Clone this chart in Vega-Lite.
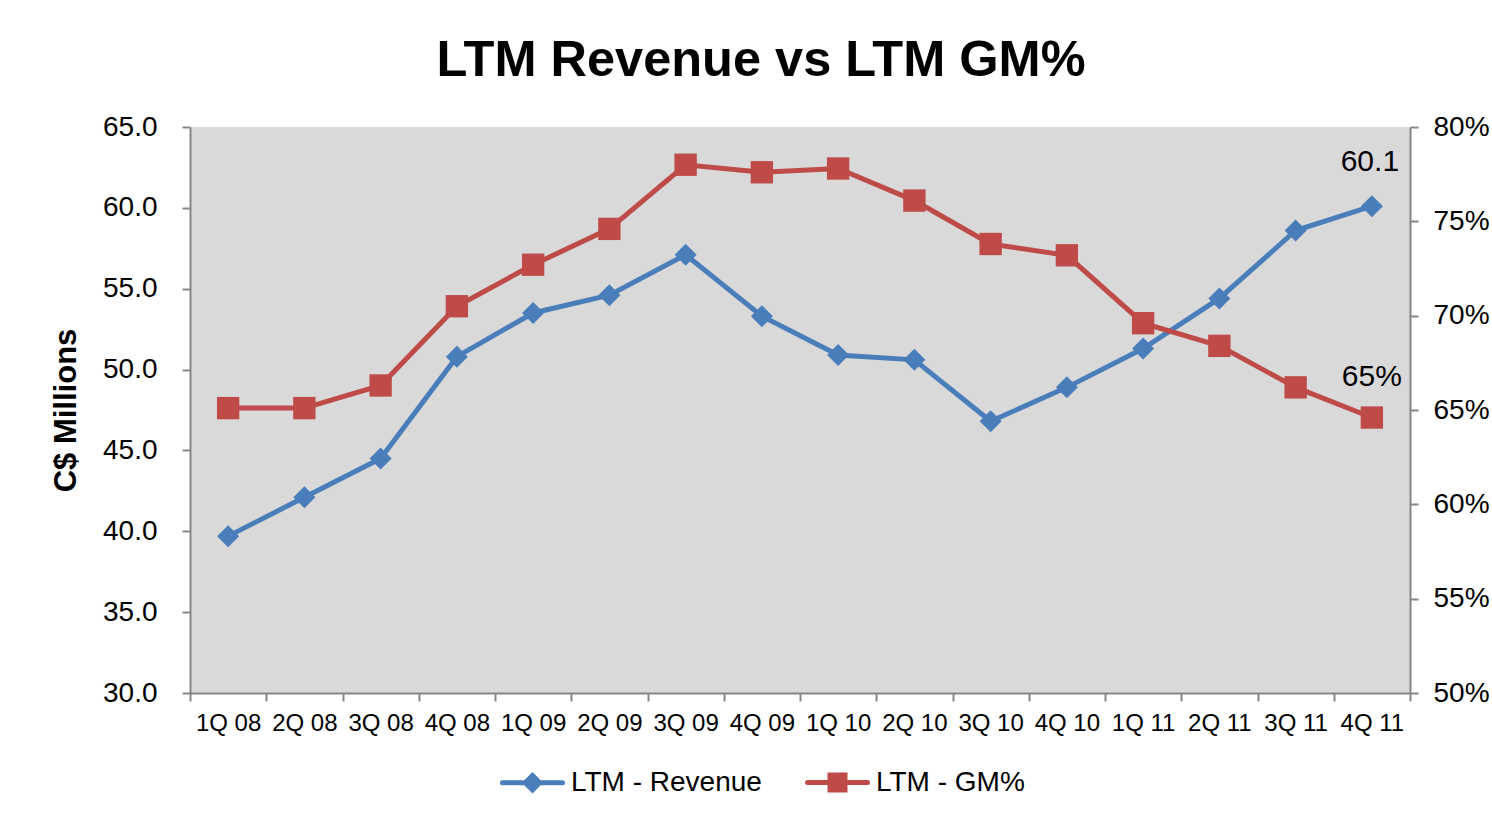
{
  "$schema": "https://vega.github.io/schema/vega-lite/v6.json",
  "width": 1220,
  "height": 566,
  "autosize": {"type": "none"},
  "padding": {"left": 190, "top": 127, "right": 82, "bottom": 129},
  "background": "white",
  "title": {
    "text": "LTM Revenue vs LTM GM%",
    "fontSize": 50.5,
    "fontWeight": "bold",
    "font": "Liberation Sans",
    "color": "black",
    "anchor": "middle",
    "baseline": "alphabetic",
    "offset": -13,
    "dx": -39
  },
  "config": {
    "font": "Liberation Sans",
    "view": {"fill": "#d9d9d9", "stroke": null},
    "axis": {
      "domainColor": "#868686",
      "domainWidth": 2,
      "tickColor": "#868686",
      "tickWidth": 2,
      "tickSize": 8,
      "grid": false,
      "labelColor": "black",
      "labelFont": "Liberation Sans",
      "titleColor": "black",
      "titleFont": "Liberation Sans"
    }
  },
  "data": {
    "values": [
      {"q": "1Q 08", "rev": 39.7, "gm": 0.651},
      {"q": "2Q 08", "rev": 42.1, "gm": 0.651},
      {"q": "3Q 08", "rev": 44.5, "gm": 0.663},
      {"q": "4Q 08", "rev": 50.8, "gm": 0.705},
      {"q": "1Q 09", "rev": 53.5, "gm": 0.727},
      {"q": "2Q 09", "rev": 54.6, "gm": 0.746},
      {"q": "3Q 09", "rev": 57.1, "gm": 0.780},
      {"q": "4Q 09", "rev": 53.3, "gm": 0.776},
      {"q": "1Q 10", "rev": 50.9, "gm": 0.778},
      {"q": "2Q 10", "rev": 50.6, "gm": 0.761},
      {"q": "3Q 10", "rev": 46.8, "gm": 0.738},
      {"q": "4Q 10", "rev": 48.9, "gm": 0.732},
      {"q": "1Q 11", "rev": 51.3, "gm": 0.696},
      {"q": "2Q 11", "rev": 54.4, "gm": 0.684},
      {"q": "3Q 11", "rev": 58.6, "gm": 0.662},
      {"q": "4Q 11", "rev": 60.1, "gm": 0.646}
    ]
  },
  "encoding": {
    "x": {
      "field": "q",
      "type": "nominal",
      "sort": null,
      "scale": {"type": "band", "paddingInner": 0, "paddingOuter": 0},
      "axis": {
        "title": null,
        "labelAngle": 0,
        "labelFontSize": 24,
        "labelPadding": 10,
        "tickBand": "extent"
      }
    }
  },
  "layer": [
    {
      "encoding": {
        "y": {
          "field": "rev",
          "type": "quantitative",
          "scale": {"domain": [30, 65], "nice": false, "zero": false},
          "axis": {
            "title": "C$ Millions",
            "titleFontSize": 31,
            "titleFontWeight": "bold",
            "titlePadding": 20,
            "values": [30, 35, 40, 45, 50, 55, 60, 65],
            "format": ".1f",
            "labelFontSize": 28,
            "labelPadding": 25,
            "orient": "left"
          }
        }
      },
      "layer": [
        {
          "mark": {"type": "line", "strokeWidth": 5},
          "encoding": {
            "color": {
              "datum": "LTM - Revenue",
              "type": "nominal",
              "scale": {"domain": ["LTM - Revenue", "LTM - GM%"], "range": ["#4a7ebb", "#be4b48"]},
              "legend": {
                "title": null,
                "orient": "none",
                "direction": "horizontal",
                "legendX": 310,
                "legendY": 623,
                "labelFontSize": 28,
                "labelColor": "black",
                "labelLimit": 0,
                "labelOffset": 6,
                "columnPadding": 35,
                "symbolSize": 3600,
                "symbolStrokeWidth": 5,
                "encode": {
                  "symbols": {
                    "update": {
                      "shape": {"signal": "datum.value === 'LTM - Revenue' ? 'M-1,0L1,0M0,-0.24L0.24,0L0,0.24L-0.24,0Z' : 'M-1,0L1,0M-0.25,-0.25L0.25,-0.25L0.25,0.25L-0.25,0.25Z'"},
                      "fill": {"signal": "datum.value === 'LTM - Revenue' ? '#4a7ebb' : '#be4b48'"},
                      "stroke": {"signal": "datum.value === 'LTM - Revenue' ? '#4a7ebb' : '#be4b48'"},
                      "strokeWidth": {"value": 5},
                      "strokeCap": {"value": "round"},
                      "opacity": {"value": 1}
                    }
                  }
                }
              }
            }
          }
        },
        {
          "mark": {"type": "point", "shape": "diamond", "size": 484, "filled": true, "opacity": 1},
          "encoding": {"color": {"datum": "LTM - Revenue", "type": "nominal"}}
        },
        {
          "transform": [{"filter": "datum.q == '4Q 11'"}],
          "mark": {"type": "text", "fontSize": 30, "dy": -44, "dx": -2, "color": "black", "baseline": "middle"},
          "encoding": {"text": {"field": "rev", "type": "quantitative", "format": ".1f"}}
        }
      ]
    },
    {
      "encoding": {
        "y": {
          "field": "gm",
          "type": "quantitative",
          "scale": {"domain": [0.5, 0.8], "nice": false, "zero": false},
          "axis": {
            "title": null,
            "values": [0.5, 0.55, 0.6, 0.65, 0.7, 0.75, 0.8],
            "format": ".0%",
            "labelFontSize": 28,
            "labelPadding": 15,
            "orient": "right"
          }
        }
      },
      "layer": [
        {
          "mark": {"type": "line", "strokeWidth": 5},
          "encoding": {"color": {"datum": "LTM - GM%", "type": "nominal"}}
        },
        {
          "mark": {"type": "point", "shape": "square", "size": 500, "filled": true, "opacity": 1},
          "encoding": {"color": {"datum": "LTM - GM%", "type": "nominal"}}
        },
        {
          "transform": [{"filter": "datum.q == '4Q 11'"}],
          "mark": {"type": "text", "fontSize": 30, "dy": -41, "color": "black", "baseline": "middle"},
          "encoding": {"text": {"field": "gm", "type": "quantitative", "format": ".0%"}}
        }
      ]
    }
  ],
  "resolve": {"scale": {"y": "independent"}}
}
